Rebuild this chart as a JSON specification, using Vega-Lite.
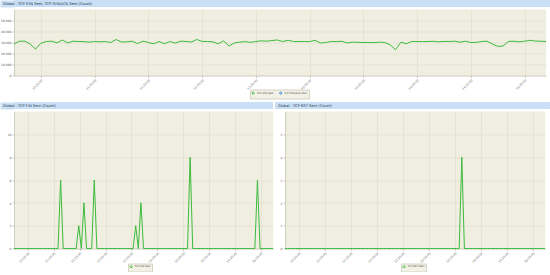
{
  "$schema": "https://vega.github.io/schema/vega-lite/v6.json",
  "padding": 0,
  "background": "white",
  "spacing": 2.5,
  "columns": 1,
  "resolve": {"scale": {"color": "independent", "x": "independent", "y": "independent"}, "legend": {"color": "independent"}},
  "config": {
    "font": "DejaVu Sans",
    "view": {"fill": "#efeee1", "stroke": null},
    "axis": {"gridColor": "#dcdccb", "gridWidth": 0.6, "domainColor": "#b8b8a8", "domainWidth": 0.6, "tickColor": "#999999", "tickSize": 2, "tickWidth": 0.5, "labelColor": "#555555", "labelFont": "DejaVu Sans", "labelPadding": 1, "labelFontSize": 3},
    "title": {"fontSize": 3.6, "font": "DejaVu Sans", "fontWeight": "normal", "color": "#223344", "anchor": "start", "dx": 3},
    "legend": {"orient": "none", "direction": "horizontal", "labelFontSize": 2.5, "labelFont": "DejaVu Sans", "labelColor": "#444444", "symbolSize": 6, "symbolType": "diamond", "symbolStrokeWidth": 1.5, "padding": 1.2, "fillColor": "#f2f1e6", "strokeColor": "#d4d4c4", "columnPadding": 2.5, "labelOffset": 1.5},
    "line": {"strokeWidth": 1, "color": "#3dbb3d"}
  },
  "datasets": {
    "none": [],
    "top": [
      {"t": "2024-03-12T10:15:00", "v": 28700}, {"t": "2024-03-12T10:18:00", "v": 31200}, {"t": "2024-03-12T10:21:00", "v": 31200}, {"t": "2024-03-12T10:24:00", "v": 28700}, {"t": "2024-03-12T10:27:00", "v": 24000},
      {"t": "2024-03-12T10:30:00", "v": 29300}, {"t": "2024-03-12T10:33:00", "v": 30900}, {"t": "2024-03-12T10:36:00", "v": 31200}, {"t": "2024-03-12T10:39:00", "v": 29700}, {"t": "2024-03-12T10:42:00", "v": 32300},
      {"t": "2024-03-12T10:45:00", "v": 29600}, {"t": "2024-03-12T10:48:00", "v": 31200}, {"t": "2024-03-12T10:51:00", "v": 30900}, {"t": "2024-03-12T10:54:00", "v": 30800}, {"t": "2024-03-12T10:57:00", "v": 30300},
      {"t": "2024-03-12T11:00:00", "v": 30900}, {"t": "2024-03-12T11:03:00", "v": 30600}, {"t": "2024-03-12T11:06:00", "v": 30900}, {"t": "2024-03-12T11:09:00", "v": 30000}, {"t": "2024-03-12T11:12:00", "v": 32700},
      {"t": "2024-03-12T11:15:00", "v": 30500}, {"t": "2024-03-12T11:18:00", "v": 30600}, {"t": "2024-03-12T11:21:00", "v": 31200}, {"t": "2024-03-12T11:24:00", "v": 29000}, {"t": "2024-03-12T11:27:00", "v": 31300},
      {"t": "2024-03-12T11:30:00", "v": 30000}, {"t": "2024-03-12T11:33:00", "v": 28800}, {"t": "2024-03-12T11:36:00", "v": 30900}, {"t": "2024-03-12T11:39:00", "v": 28800}, {"t": "2024-03-12T11:42:00", "v": 30900},
      {"t": "2024-03-12T11:45:00", "v": 29400}, {"t": "2024-03-12T11:48:00", "v": 31200}, {"t": "2024-03-12T11:51:00", "v": 31000}, {"t": "2024-03-12T11:54:00", "v": 30400}, {"t": "2024-03-12T11:57:00", "v": 32700},
      {"t": "2024-03-12T12:00:00", "v": 31000}, {"t": "2024-03-12T12:03:00", "v": 30900}, {"t": "2024-03-12T12:06:00", "v": 30600}, {"t": "2024-03-12T12:09:00", "v": 28800}, {"t": "2024-03-12T12:12:00", "v": 31500},
      {"t": "2024-03-12T12:15:00", "v": 26800}, {"t": "2024-03-12T12:18:00", "v": 29600}, {"t": "2024-03-12T12:21:00", "v": 30300}, {"t": "2024-03-12T12:24:00", "v": 30800}, {"t": "2024-03-12T12:27:00", "v": 30100},
      {"t": "2024-03-12T12:30:00", "v": 30900}, {"t": "2024-03-12T12:33:00", "v": 31500}, {"t": "2024-03-12T12:36:00", "v": 31200}, {"t": "2024-03-12T12:39:00", "v": 31800}, {"t": "2024-03-12T12:42:00", "v": 32300},
      {"t": "2024-03-12T12:45:00", "v": 30900}, {"t": "2024-03-12T12:48:00", "v": 32000}, {"t": "2024-03-12T12:51:00", "v": 30900}, {"t": "2024-03-12T12:54:00", "v": 30900}, {"t": "2024-03-12T12:57:00", "v": 30900},
      {"t": "2024-03-12T13:00:00", "v": 30800}, {"t": "2024-03-12T13:03:00", "v": 32000}, {"t": "2024-03-12T13:06:00", "v": 29600}, {"t": "2024-03-12T13:09:00", "v": 30000}, {"t": "2024-03-12T13:12:00", "v": 30900},
      {"t": "2024-03-12T13:15:00", "v": 30800}, {"t": "2024-03-12T13:18:00", "v": 31200}, {"t": "2024-03-12T13:21:00", "v": 29600}, {"t": "2024-03-12T13:24:00", "v": 30300}, {"t": "2024-03-12T13:27:00", "v": 30200},
      {"t": "2024-03-12T13:30:00", "v": 30000}, {"t": "2024-03-12T13:33:00", "v": 30000}, {"t": "2024-03-12T13:36:00", "v": 29900}, {"t": "2024-03-12T13:39:00", "v": 30300}, {"t": "2024-03-12T13:42:00", "v": 30000},
      {"t": "2024-03-12T13:45:00", "v": 27800}, {"t": "2024-03-12T13:48:00", "v": 23400}, {"t": "2024-03-12T13:51:00", "v": 30300}, {"t": "2024-03-12T13:54:00", "v": 28800}, {"t": "2024-03-12T13:57:00", "v": 30900},
      {"t": "2024-03-12T14:00:00", "v": 30900}, {"t": "2024-03-12T14:03:00", "v": 30800}, {"t": "2024-03-12T14:06:00", "v": 30900}, {"t": "2024-03-12T14:09:00", "v": 31100}, {"t": "2024-03-12T14:12:00", "v": 30600},
      {"t": "2024-03-12T14:15:00", "v": 31000}, {"t": "2024-03-12T14:18:00", "v": 30900}, {"t": "2024-03-12T14:21:00", "v": 31200}, {"t": "2024-03-12T14:24:00", "v": 30300}, {"t": "2024-03-12T14:27:00", "v": 31200},
      {"t": "2024-03-12T14:30:00", "v": 30000}, {"t": "2024-03-12T14:33:00", "v": 30100}, {"t": "2024-03-12T14:36:00", "v": 30900}, {"t": "2024-03-12T14:39:00", "v": 31200}, {"t": "2024-03-12T14:42:00", "v": 28800},
      {"t": "2024-03-12T14:45:00", "v": 26500}, {"t": "2024-03-12T14:48:00", "v": 26800}, {"t": "2024-03-12T14:51:00", "v": 30900}, {"t": "2024-03-12T14:54:00", "v": 31200}, {"t": "2024-03-12T14:57:00", "v": 30600},
      {"t": "2024-03-12T15:00:00", "v": 31200}, {"t": "2024-03-12T15:03:00", "v": 32000}, {"t": "2024-03-12T15:06:00", "v": 31300}, {"t": "2024-03-12T15:09:00", "v": 31200}, {"t": "2024-03-12T15:12:00", "v": 30900}
    ],
    "bottom": [
      {"t": "2024-03-12T10:14:00", "fin": 0, "rst": 0}, {"t": "2024-03-12T10:17:00", "fin": 0, "rst": 0}, {"t": "2024-03-12T10:20:00", "fin": 0, "rst": 0}, {"t": "2024-03-12T10:23:00", "fin": 0, "rst": 0}, {"t": "2024-03-12T10:26:00", "fin": 0, "rst": 0},
      {"t": "2024-03-12T10:29:00", "fin": 0, "rst": 0}, {"t": "2024-03-12T10:32:00", "fin": 0, "rst": 0}, {"t": "2024-03-12T10:35:00", "fin": 0, "rst": 0}, {"t": "2024-03-12T10:38:00", "fin": 0, "rst": 0}, {"t": "2024-03-12T10:41:00", "fin": 0, "rst": 0},
      {"t": "2024-03-12T10:44:00", "fin": 0, "rst": 0}, {"t": "2024-03-12T10:47:00", "fin": 0, "rst": 0}, {"t": "2024-03-12T10:50:00", "fin": 0, "rst": 0}, {"t": "2024-03-12T10:53:00", "fin": 0, "rst": 0}, {"t": "2024-03-12T10:56:00", "fin": 0, "rst": 0},
      {"t": "2024-03-12T10:59:00", "fin": 0, "rst": 0}, {"t": "2024-03-12T11:02:00", "fin": 0, "rst": 0}, {"t": "2024-03-12T11:05:00", "fin": 0, "rst": 0}, {"t": "2024-03-12T11:08:00", "fin": 6, "rst": 0}, {"t": "2024-03-12T11:11:00", "fin": 0, "rst": 0},
      {"t": "2024-03-12T11:14:00", "fin": 0, "rst": 0}, {"t": "2024-03-12T11:17:00", "fin": 0, "rst": 0}, {"t": "2024-03-12T11:20:00", "fin": 0, "rst": 0}, {"t": "2024-03-12T11:23:00", "fin": 0, "rst": 0}, {"t": "2024-03-12T11:26:00", "fin": 0, "rst": 0},
      {"t": "2024-03-12T11:29:00", "fin": 2, "rst": 0}, {"t": "2024-03-12T11:32:00", "fin": 0, "rst": 0}, {"t": "2024-03-12T11:35:00", "fin": 4, "rst": 0}, {"t": "2024-03-12T11:38:00", "fin": 0, "rst": 0}, {"t": "2024-03-12T11:41:00", "fin": 0, "rst": 0},
      {"t": "2024-03-12T11:44:00", "fin": 0, "rst": 0}, {"t": "2024-03-12T11:47:00", "fin": 6, "rst": 0}, {"t": "2024-03-12T11:50:00", "fin": 0, "rst": 0}, {"t": "2024-03-12T11:53:00", "fin": 0, "rst": 0}, {"t": "2024-03-12T11:56:00", "fin": 0, "rst": 0},
      {"t": "2024-03-12T11:59:00", "fin": 0, "rst": 0}, {"t": "2024-03-12T12:02:00", "fin": 0, "rst": 0}, {"t": "2024-03-12T12:05:00", "fin": 0, "rst": 0}, {"t": "2024-03-12T12:08:00", "fin": 0, "rst": 0}, {"t": "2024-03-12T12:11:00", "fin": 0, "rst": 0},
      {"t": "2024-03-12T12:14:00", "fin": 0, "rst": 0}, {"t": "2024-03-12T12:17:00", "fin": 0, "rst": 0}, {"t": "2024-03-12T12:20:00", "fin": 0, "rst": 0}, {"t": "2024-03-12T12:23:00", "fin": 0, "rst": 0}, {"t": "2024-03-12T12:26:00", "fin": 0, "rst": 0},
      {"t": "2024-03-12T12:29:00", "fin": 0, "rst": 0}, {"t": "2024-03-12T12:32:00", "fin": 0, "rst": 0}, {"t": "2024-03-12T12:35:00", "fin": 2, "rst": 0}, {"t": "2024-03-12T12:38:00", "fin": 0, "rst": 0}, {"t": "2024-03-12T12:41:00", "fin": 4, "rst": 0},
      {"t": "2024-03-12T12:44:00", "fin": 0, "rst": 0}, {"t": "2024-03-12T12:47:00", "fin": 0, "rst": 0}, {"t": "2024-03-12T12:50:00", "fin": 0, "rst": 0}, {"t": "2024-03-12T12:53:00", "fin": 0, "rst": 0}, {"t": "2024-03-12T12:56:00", "fin": 0, "rst": 0},
      {"t": "2024-03-12T12:59:00", "fin": 0, "rst": 0}, {"t": "2024-03-12T13:02:00", "fin": 0, "rst": 0}, {"t": "2024-03-12T13:05:00", "fin": 0, "rst": 0}, {"t": "2024-03-12T13:08:00", "fin": 0, "rst": 0}, {"t": "2024-03-12T13:11:00", "fin": 0, "rst": 0},
      {"t": "2024-03-12T13:14:00", "fin": 0, "rst": 0}, {"t": "2024-03-12T13:17:00", "fin": 0, "rst": 0}, {"t": "2024-03-12T13:20:00", "fin": 0, "rst": 0}, {"t": "2024-03-12T13:23:00", "fin": 0, "rst": 0}, {"t": "2024-03-12T13:26:00", "fin": 0, "rst": 0},
      {"t": "2024-03-12T13:29:00", "fin": 0, "rst": 0}, {"t": "2024-03-12T13:32:00", "fin": 0, "rst": 0}, {"t": "2024-03-12T13:35:00", "fin": 0, "rst": 0}, {"t": "2024-03-12T13:38:00", "fin": 8, "rst": 4}, {"t": "2024-03-12T13:41:00", "fin": 0, "rst": 0},
      {"t": "2024-03-12T13:44:00", "fin": 0, "rst": 0}, {"t": "2024-03-12T13:47:00", "fin": 0, "rst": 0}, {"t": "2024-03-12T13:50:00", "fin": 0, "rst": 0}, {"t": "2024-03-12T13:53:00", "fin": 0, "rst": 0}, {"t": "2024-03-12T13:56:00", "fin": 0, "rst": 0},
      {"t": "2024-03-12T13:59:00", "fin": 0, "rst": 0}, {"t": "2024-03-12T14:02:00", "fin": 0, "rst": 0}, {"t": "2024-03-12T14:05:00", "fin": 0, "rst": 0}, {"t": "2024-03-12T14:08:00", "fin": 0, "rst": 0}, {"t": "2024-03-12T14:11:00", "fin": 0, "rst": 0},
      {"t": "2024-03-12T14:14:00", "fin": 0, "rst": 0}, {"t": "2024-03-12T14:17:00", "fin": 0, "rst": 0}, {"t": "2024-03-12T14:20:00", "fin": 0, "rst": 0}, {"t": "2024-03-12T14:23:00", "fin": 0, "rst": 0}, {"t": "2024-03-12T14:26:00", "fin": 0, "rst": 0},
      {"t": "2024-03-12T14:29:00", "fin": 0, "rst": 0}, {"t": "2024-03-12T14:32:00", "fin": 0, "rst": 0}, {"t": "2024-03-12T14:35:00", "fin": 0, "rst": 0}, {"t": "2024-03-12T14:38:00", "fin": 0, "rst": 0}, {"t": "2024-03-12T14:41:00", "fin": 0, "rst": 0},
      {"t": "2024-03-12T14:44:00", "fin": 0, "rst": 0}, {"t": "2024-03-12T14:47:00", "fin": 0, "rst": 0}, {"t": "2024-03-12T14:50:00", "fin": 0, "rst": 0}, {"t": "2024-03-12T14:53:00", "fin": 0, "rst": 0}, {"t": "2024-03-12T14:56:00", "fin": 6, "rst": 0},
      {"t": "2024-03-12T14:59:00", "fin": 0, "rst": 0}, {"t": "2024-03-12T15:02:00", "fin": 0, "rst": 0}, {"t": "2024-03-12T15:05:00", "fin": 0, "rst": 0}, {"t": "2024-03-12T15:08:00", "fin": 0, "rst": 0}, {"t": "2024-03-12T15:11:00", "fin": 0, "rst": 0},
      {"t": "2024-03-12T15:14:00", "fin": 0, "rst": 0}
    ]
  },
  "concat": [
    {
      "width": 536,
      "height": 7,
      "view": {"fill": "#c8dff5", "stroke": null},
      "title": {"text": "Global - TCP SYN Sent, TCP SYN/ACK Sent (Count)", "offset": -5.5},
      "data": {"name": "none"},
      "mark": {"type": "text"},
      "encoding": {
        "y": {"datum": 0, "type": "quantitative", "title": null, "scale": {"domain": [0, 1]}, "axis": {"labels": false, "ticks": false, "grid": false, "domain": true, "domainColor": "#c8dff5", "domainWidth": 14, "offset": 7, "minExtent": 7, "maxExtent": 7}}
      }
    },
    {
      "width": 532,
      "height": 66,
      "data": {"name": "top"},
      "mark": {"type": "line"},
      "encoding": {
        "x": {"field": "t", "type": "temporal", "title": null, "scale": {"nice": false}, "axis": {"format": "%H:%M:%S", "labelAngle": -45, "tickCount": 10, "maxExtent": 11}},
        "y": {"field": "v", "type": "quantitative", "title": null, "scale": {"domain": [0, 60000], "nice": false}, "axis": {"values": [0, 10000, 20000, 30000, 40000, 50000], "format": ",d", "minExtent": 14, "maxExtent": 14}},
        "color": {"datum": "TCP SYN Sent", "type": "nominal", "title": null, "scale": {"domain": ["TCP SYN Sent", "TCP SYN/ACK Sent"], "range": ["#3dbb3d", "#2a8ad8"]}, "legend": {"legendX": 236, "legendY": 80}}
      }
    },
    {
      "spacing": 2,
      "hconcat": [
        {
          "width": 259,
          "height": 7,
          "view": {"fill": "#c8dff5", "stroke": null},
          "title": {"text": "Global - TCP FIN Sent (Count)", "offset": -5.5},
          "data": {"name": "none"},
          "mark": {"type": "text"},
          "encoding": {
            "y": {"datum": 0, "type": "quantitative", "title": null, "scale": {"domain": [0, 1]}, "axis": {"labels": false, "ticks": false, "grid": false, "domain": true, "domainColor": "#c8dff5", "domainWidth": 14, "offset": 7, "minExtent": 7, "maxExtent": 7}}
          }
        },
        {
          "width": 275,
          "height": 7,
          "view": {"fill": "#c8dff5", "stroke": null},
          "title": {"text": "Global - TCP RST Sent (Count)", "offset": -5.5},
          "data": {"name": "none"},
          "mark": {"type": "text"},
          "encoding": {}
        }
      ]
    },
    {
      "spacing": 2,
      "resolve": {"scale": {"color": "independent", "x": "independent", "y": "independent"}, "legend": {"color": "independent"}},
      "hconcat": [
        {
          "width": 259,
          "height": 137,
          "data": {"name": "bottom"},
          "mark": {"type": "line"},
          "encoding": {
            "x": {"field": "t", "type": "temporal", "title": null, "scale": {"nice": false}, "axis": {"format": "%H:%M:%S", "labelAngle": -45, "tickCount": 10}},
            "y": {"field": "fin", "type": "quantitative", "title": null, "scale": {"domain": [0, 12], "nice": false}, "axis": {"values": [0, 2, 4, 6, 8, 10], "minExtent": 14, "maxExtent": 14}},
            "color": {"datum": "TCP FIN Sent", "type": "nominal", "title": null, "scale": {"domain": ["TCP FIN Sent"], "range": ["#3dbb3d"]}, "legend": {"legendX": 114, "legendY": 152}}
          }
        },
        {
          "width": 260,
          "height": 137,
          "data": {"name": "bottom"},
          "mark": {"type": "line"},
          "encoding": {
            "x": {"field": "t", "type": "temporal", "title": null, "scale": {"nice": false}, "axis": {"format": "%H:%M:%S", "labelAngle": -45, "tickCount": 10}},
            "y": {"field": "rst", "type": "quantitative", "title": null, "scale": {"domain": [0, 6], "nice": false}, "axis": {"values": [0, 1, 2, 3, 4, 5], "minExtent": 8, "maxExtent": 8}},
            "color": {"datum": "TCP RST Sent", "type": "nominal", "title": null, "scale": {"domain": ["TCP RST Sent"], "range": ["#3dbb3d"]}, "legend": {"legendX": 116, "legendY": 152}}
          }
        }
      ]
    }
  ]
}
